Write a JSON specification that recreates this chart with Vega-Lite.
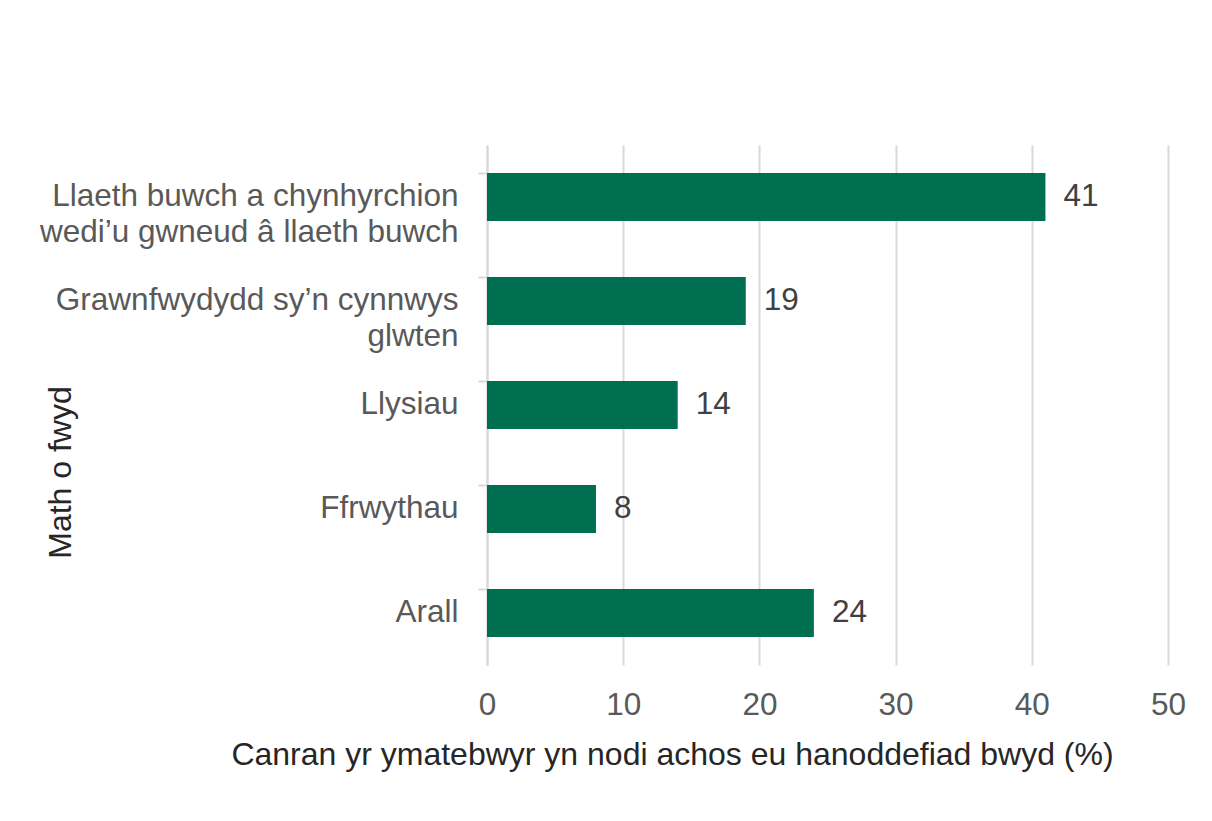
{
  "$schema": "https://vega.github.io/schema/vega-lite/v6.json",
  "autosize": {"type": "none"},
  "width": 681,
  "height": 520,
  "padding": {"left": 487, "top": 145, "right": 44, "bottom": 156},
  "background": "white",
  "config": {
    "view": {"stroke": null},
    "font": "Liberation Sans",
    "axis": {"labelFont": "Liberation Sans", "titleFont": "Liberation Sans", "labelColor": "#595959", "titleColor": "#262626", "titleFontWeight": "normal"}
  },
  "data": {
    "values": [
      {"food": "Llaeth buwch a chynhyrchion wedi’u gwneud â llaeth buwch", "pct": 41},
      {"food": "Grawnfwydydd sy’n cynnwys glwten", "pct": 19},
      {"food": "Llysiau", "pct": 14},
      {"food": "Ffrwythau", "pct": 8},
      {"food": "Arall", "pct": 24}
    ]
  },
  "encoding": {
    "y": {
      "field": "food",
      "type": "nominal",
      "sort": null,
      "scale": {"paddingInner": 0.54, "paddingOuter": 0.27},
      "axis": {
        "title": "Math o fwyd",
        "titleFontSize": 32,
        "titleX": -410,
        "titleY": 327,
        "titleAngle": -90,
        "titleAlign": "center",
        "titleBaseline": "bottom",
        "labelFontSize": 31.5,
        "labelLineHeight": 36,
        "labelPadding": 20,
        "labelLimit": 0,
        "labelExpr": "datum.value == 'Llaeth buwch a chynhyrchion wedi’u gwneud â llaeth buwch' ? ['Llaeth buwch a chynhyrchion', 'wedi’u gwneud â llaeth buwch'] : datum.value == 'Grawnfwydydd sy’n cynnwys glwten' ? ['Grawnfwydydd sy’n cynnwys', 'glwten'] : datum.value",
        "domainColor": "#D9D9D9",
        "domainWidth": 2,
        "tickColor": "#D9D9D9",
        "tickWidth": 2,
        "tickSize": 9,
        "bandPosition": 0,
        "grid": false
      }
    },
    "x": {
      "field": "pct",
      "type": "quantitative",
      "scale": {"domain": [0, 50]},
      "axis": {
        "title": "Canran yr ymatebwyr yn nodi achos eu hanoddefiad bwyd (%)",
        "titleFontSize": 32,
        "titleX": 185,
        "titleY": 106,
        "titleAlign": "center",
        "titleBaseline": "bottom",
        "values": [0, 10, 20, 30, 40, 50],
        "labelFontSize": 31.5,
        "labelPadding": 24,
        "labelFlush": false,
        "domain": false,
        "ticks": false,
        "grid": true,
        "gridColor": "#D9D9D9",
        "gridWidth": 2
      }
    }
  },
  "layer": [
    {"mark": {"type": "bar", "color": "#006F51"}},
    {
      "mark": {"type": "text", "align": "left", "baseline": "middle", "dx": 18, "fontSize": 31.5, "color": "#404040", "font": "Liberation Sans"},
      "encoding": {"text": {"field": "pct", "type": "quantitative"}}
    }
  ]
}
